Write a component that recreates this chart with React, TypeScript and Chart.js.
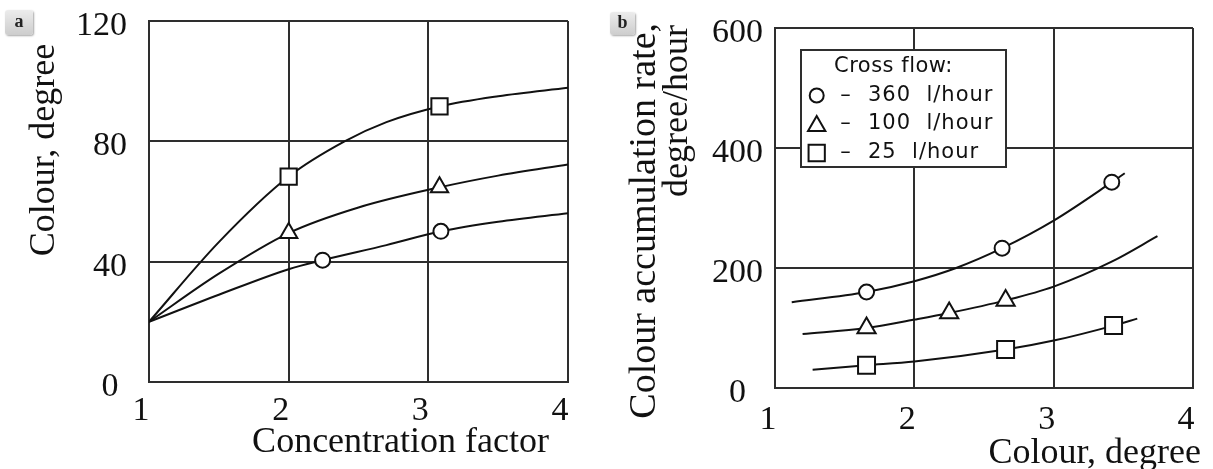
import React, { useEffect, useRef } from 'react';
import { Chart, registerables } from 'chart.js';

Chart.register(...registerables);

// ---------------- Panel a data ----------------
const aXTicks = [1, 2, 3, 4];
const aYTicks = [0, 40, 80, 120];
const aXTitle = 'Concentration factor';
const aYTitle = 'Colour, degree';

// upper curve (squares)
const aSqCurveX = [1, 1.5, 2.0, 2.4, 2.7, 3.08, 3.5, 4];
const aSqCurveY = [20, 46.5, 68.3, 80, 86.4, 91.6, 95, 97.8];
const aSqMarkX = [2.0, 3.08];
const aSqMarkY = [68.3, 91.6];
// middle curve (triangles)
const aTriCurveX = [1, 1.5, 2.0, 2.5, 3.08, 3.5, 4];
const aTriCurveY = [20, 36, 49.5, 58, 64.7, 68.6, 72.3];
const aTriMarkX = [2.0, 3.08];
const aTriMarkY = [49.5, 64.7];
// lower curve (circles)
const aCirCurveX = [1, 1.5, 2.0, 2.243, 2.7, 3.09, 3.5, 4];
const aCirCurveY = [20, 29, 37.5, 40.5, 45.5, 50.1, 53.3, 56.1];
const aCirMarkX = [2.243, 3.09];
const aCirMarkY = [40.5, 50.1];

// ---------------- Panel b data ----------------
const bXTicks = [1, 2, 3, 4];
const bYTicks = [0, 200, 400, 600];
const bXTitle = 'Colour, degree';
const bYTitle = ['Colour accumulation rate,', 'degree/hour'];
const bLegendTitle = 'Cross flow:';
const bLegendLabels = ['360 l/hour', '100 l/hour', '25 l/hour'];

// 360 l/hour (circles)
const bCirCurveX = [1.12, 1.657, 2.0, 2.3, 2.63, 3.0, 3.417, 3.51];
const bCirCurveY = [143, 160, 178, 200, 233, 279, 343, 358];
const bCirMarkX = [1.657, 2.63, 3.417];
const bCirMarkY = [160, 233, 343];
// 100 l/hour (triangles)
const bTriCurveX = [1.198, 1.657, 2.0, 2.25, 2.655, 3.0, 3.42, 3.745];
const bTriCurveY = [90, 100, 114, 125, 146, 169, 211, 253];
const bTriMarkX = [1.657, 2.25, 2.655];
const bTriMarkY = [100, 125, 146];
// 25 l/hour (squares)
const bSqCurveX = [1.27, 1.657, 2.0, 2.655, 3.0, 3.43, 3.6];
const bSqCurveY = [30.6, 37.8, 44, 64, 79, 104, 115.6];
const bSqMarkX = [1.657, 2.655, 3.43];
const bSqMarkY = [37.8, 64, 104];

// ---------------- styling ----------------
const INK = '#111';
const GRID = '#2e2e2e';
const SERIF = '"Liberation Serif", "Times New Roman", serif';
const SANS = '"DejaVu Sans", sans-serif';

const pts = (xs: number[], ys: number[]) => xs.map((x, i) => ({ x, y: ys[i] }));

function curve(xs: number[], ys: number[]) {
  return {
    data: pts(xs, ys),
    showLine: true,
    borderColor: INK,
    borderWidth: 2,
    pointRadius: 0,
    cubicInterpolationMode: 'monotone',
    fill: false,
    order: 2,
  };
}

function markers(xs: number[], ys: number[], style: string, radius: number) {
  return {
    data: pts(xs, ys),
    showLine: false,
    pointStyle: style,
    pointRadius: radius,
    pointBackgroundColor: '#fff',
    pointBorderColor: INK,
    pointBorderWidth: 2,
    order: 1,
  };
}

function drawMarker(ctx: CanvasRenderingContext2D, style: string, x: number, y: number, r: number) {
  ctx.beginPath();
  if (style === 'circle') {
    ctx.arc(x, y, r, 0, Math.PI * 2);
  } else if (style === 'triangle') {
    for (let k = 0; k < 3; k++) {
      const a = (k * 2 * Math.PI) / 3;
      const px = x + Math.sin(a) * r;
      const py = y - Math.cos(a) * r;
      if (k === 0) ctx.moveTo(px, py);
      else ctx.lineTo(px, py);
    }
    ctx.closePath();
  } else {
    const s = Math.SQRT1_2 * r;
    ctx.rect(x - s, y - s, 2 * s, 2 * s);
  }
  ctx.fillStyle = '#fff';
  ctx.fill();
  ctx.lineWidth = 2;
  ctx.strokeStyle = INK;
  ctx.stroke();
}

type Cfg = {
  datasets: any[];
  xTicks: number[];
  yTicks: number[];
  yLabel: (v: number) => string;
  yWidth: number;
  xHeight: number;
  padTop: number;
  padRight: number;
  yPad: number;
  xPad: number;
  xLabelOffset: number;
  draw: (ctx: CanvasRenderingContext2D, area: any) => void;
};

function buildConfig(c: Cfg): any {
  const tickFont = { family: SERIF, size: 34 };
  return {
    type: 'scatter',
    data: { datasets: c.datasets },
    options: {
      responsive: false,
      animation: false,
      events: [],
      layout: { padding: { left: 0, top: c.padTop, right: c.padRight, bottom: 0 } },
      plugins: { legend: { display: false }, tooltip: { enabled: false } },
      scales: {
        x: {
          type: 'linear',
          min: c.xTicks[0],
          max: c.xTicks[c.xTicks.length - 1],
          afterBuildTicks: (s: any) => {
            s.ticks = c.xTicks.map((v) => ({ value: v }));
          },
          afterFit: (s: any) => {
            s.height = c.xHeight;
            s.paddingLeft = 0;
            s.paddingRight = 0;
            s.paddingTop = 0;
            s.paddingBottom = 0;
          },
          grid: { color: GRID, lineWidth: 2, drawTicks: false },
          border: { display: true, color: GRID, width: 2 },
          ticks: {
            color: INK,
            font: tickFont,
            padding: c.xPad,
            labelOffset: c.xLabelOffset,
            autoSkip: false,
            maxRotation: 0,
            callback: (v: number) => String(v),
          },
        },
        y: {
          type: 'linear',
          min: c.yTicks[0],
          max: c.yTicks[c.yTicks.length - 1],
          afterBuildTicks: (s: any) => {
            s.ticks = c.yTicks.map((v) => ({ value: v }));
          },
          afterFit: (s: any) => {
            s.width = c.yWidth;
            s.paddingLeft = 0;
            s.paddingRight = 0;
            s.paddingTop = 0;
            s.paddingBottom = 0;
          },
          grid: { color: GRID, lineWidth: 2, drawTicks: false },
          border: { display: true, color: GRID, width: 2 },
          ticks: {
            color: INK,
            font: tickFont,
            padding: c.yPad,
            labelOffset: 5,
            autoSkip: false,
            callback: (v: number) => c.yLabel(v),
          },
        },
      },
    },
    plugins: [
      {
        id: 'customText',
        afterDraw: (chart: any) => {
          const ctx = chart.ctx as CanvasRenderingContext2D;
          ctx.save();
          c.draw(ctx, chart.chartArea);
          ctx.restore();
        },
      },
    ],
  };
}

function configA() {
  return buildConfig({
    datasets: [
      markers(aSqMarkX, aSqMarkY, 'rect', 11.5),
      markers(aTriMarkX, aTriMarkY, 'triangle', 10),
      markers(aCirMarkX, aCirMarkY, 'circle', 7.5),
      curve(aSqCurveX, aSqCurveY),
      curve(aTriCurveX, aTriCurveY),
      curve(aCirCurveX, aCirCurveY),
    ],
    xTicks: aXTicks,
    yTicks: aYTicks,
    yLabel: (v) => (v === 0 ? '0 ' : String(v)),
    yWidth: 149,
    xHeight: 87,
    padTop: 21,
    padRight: 32,
    yPad: 22,
    xPad: 9,
    xLabelOffset: -8,
    draw: (ctx, area) => {
      ctx.fillStyle = INK;
      ctx.font = `36px ${SERIF}`;
      ctx.textBaseline = 'alphabetic';
      ctx.textAlign = 'right';
      ctx.fillText(aXTitle, area.right - 19, 452);
      ctx.translate(54, 150);
      ctx.rotate(-Math.PI / 2);
      ctx.textAlign = 'center';
      ctx.fillText(aYTitle, 0, 0);
    },
  });
}

function configB() {
  return buildConfig({
    datasets: [
      markers(bCirMarkX, bCirMarkY, 'circle', 7.5),
      markers(bTriMarkX, bTriMarkY, 'triangle', 10.5),
      markers(bSqMarkX, bSqMarkY, 'rect', 12),
      curve(bCirCurveX, bCirCurveY),
      curve(bTriCurveX, bTriCurveY),
      curve(bSqCurveX, bSqCurveY),
    ],
    xTicks: bXTicks,
    yTicks: bYTicks,
    yLabel: (v) => (v === 0 ? '0  ' : String(v)),
    yWidth: 175,
    xHeight: 81,
    padTop: 28,
    padRight: 20,
    yPad: 12,
    xPad: 12,
    xLabelOffset: -7,
    draw: (ctx, area) => {
      // axis titles
      ctx.fillStyle = INK;
      ctx.font = `36px ${SERIF}`;
      ctx.textBaseline = 'alphabetic';
      ctx.textAlign = 'right';
      ctx.fillText(bXTitle, area.right + 8, 463);
      ctx.save();
      ctx.font = `38px ${SERIF}`;
      ctx.translate(55, 23);
      ctx.rotate(-Math.PI / 2);
      ctx.fillText(bYTitle[0], 0, 0);
      ctx.restore();
      ctx.save();
      ctx.translate(87, 25);
      ctx.rotate(-Math.PI / 2);
      ctx.fillText(bYTitle[1], 0, 0);
      ctx.restore();

      // legend box
      const bx = area.left + 26;
      const by = area.top + 22;
      const bw = 205;
      const bh = 117;
      ctx.fillStyle = '#fff';
      ctx.fillRect(bx, by, bw, bh);
      ctx.lineWidth = 2;
      ctx.strokeStyle = GRID;
      ctx.strokeRect(bx, by, bw, bh);

      ctx.fillStyle = INK;
      ctx.font = `21px ${SANS}`;
      ctx.textBaseline = 'middle';
      ctx.textAlign = 'left';
      (ctx as any).letterSpacing = '0.5px';
      ctx.fillText(bLegendTitle, bx + 33, by + 17);
      const styles = ['circle', 'triangle', 'rect'];
      const radii = [7, 10, 11.5];
      const rowY = [45.5, 74, 103];
      const markY = [45.5, 76, 103];
      for (let i = 0; i < 3; i++) {
        drawMarker(ctx, styles[i], bx + 15.7, by + markY[i], radii[i]);
        ctx.fillStyle = INK;
        (ctx as any).letterSpacing = '0px';
        ctx.textAlign = 'center';
        ctx.fillText('\u2013', bx + 44.5, by + rowY[i]);
        ctx.textAlign = 'left';
        (ctx as any).letterSpacing = '1px';
        ctx.fillText(bLegendLabels[i].replace(' ', '  '), bx + 67, by + rowY[i]);
      }
    },
  });
}

const tagStyle = (left: number, top: number, w: number, h: number): React.CSSProperties => ({
  position: 'absolute',
  left,
  top,
  width: w,
  height: h,
  borderRadius: 3,
  background: 'linear-gradient(#ececec, #cdcdcd)',
  boxShadow: '1px 1px 2px rgba(0,0,0,0.35)',
  fontFamily: SERIF,
  fontWeight: 'bold',
  fontSize: 18,
  lineHeight: `${h - 2}px`,
  textAlign: 'center',
  color: '#222',
});

export default function App() {
  const refA = useRef<HTMLCanvasElement>(null);
  const refB = useRef<HTMLCanvasElement>(null);

  useEffect(() => {
    const a = new Chart(refA.current as HTMLCanvasElement, configA());
    const b = new Chart(refB.current as HTMLCanvasElement, configB());
    return () => {
      a.destroy();
      b.destroy();
    };
  }, []);

  return (
    <div
      style={{
        position: 'absolute',
        left: 0,
        top: 0,
        width: 1213,
        height: 469,
        background: '#fff',
        overflow: 'hidden',
      }}
    >
      <canvas
        ref={refA}
        width={600}
        height={469}
        style={{ position: 'absolute', left: 0, top: 0, width: 600, height: 469 }}
      />
      <canvas
        ref={refB}
        width={613}
        height={469}
        style={{ position: 'absolute', left: 600, top: 0, width: 613, height: 469 }}
      />
      <div style={tagStyle(5, 10, 28, 25)}>a</div>
      <div style={tagStyle(610, 12, 25, 23)}>b</div>
    </div>
  );
}
